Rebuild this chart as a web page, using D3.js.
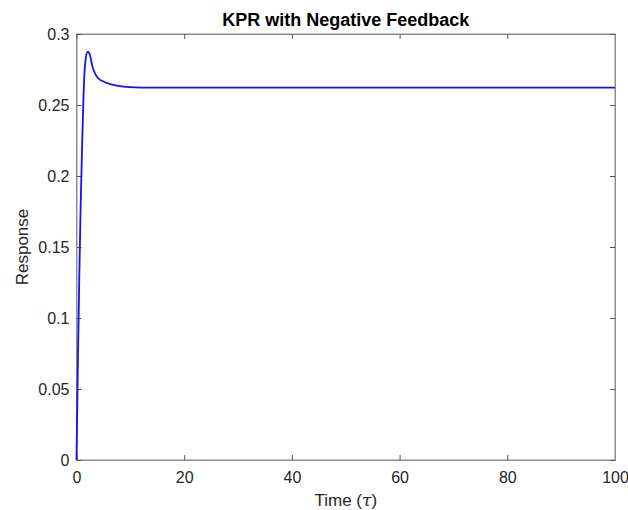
<!DOCTYPE html>
<html><head><meta charset="utf-8">
<script src="https://cdn.jsdelivr.net/npm/d3@7"></script>
<style>body{margin:0;background:#fff}svg{display:block}</style>
</head><body><svg id="c" width="628" height="510"></svg>
<script>
const times = [0,0.25,0.5,0.75,1.0,1.25,1.5,1.75,2.0,2.2,2.5,3,3.5,4,5,6,7,8,10,12,15,20,30,40,50,60,70,80,90,100];
const response = [0,0.066,0.125,0.175,0.215,0.25,0.274,0.2835,0.2873,0.2874,0.2852,0.2765,0.2718,0.269,0.2665,0.265,0.264,0.2633,0.2626,0.2623,0.2622,0.2622,0.2622,0.2622,0.2622,0.2622,0.2622,0.2622,0.2622,0.2622];
const xTicks = [0,20,40,60,80,100];
const yTicks = [0,0.05,0.1,0.15,0.2,0.25,0.3];
const yTickLabels = ["0","0.05","0.1","0.15","0.2","0.25","0.3"];

const svg = d3.select("#c");
const L=76.5,R=615,T=34,B=460;
const x = d3.scaleLinear().domain([0,100]).range([L,R]);
const y = d3.scaleLinear().domain([0,0.3]).range([B,T]);
const font="Liberation Sans, Arial, sans-serif";
const tc="#262626", ac="#8c8c8c";

const g = svg.append("g");
g.append("rect").attr("x",L).attr("y",T).attr("width",R-L).attr("height",B-T)
 .attr("fill","none").attr("stroke",ac).attr("stroke-width",1);

const tl=5;
const ax = g.append("g").attr("transform",`translate(0,${B})`)
 .call(d3.axisBottom(x).tickValues(xTicks).tickSize(-tl).tickPadding(12));
const axT = g.append("g").attr("transform",`translate(0,${T})`)
 .call(d3.axisTop(x).tickValues(xTicks).tickSize(-tl).tickFormat(""));
const ay = g.append("g").attr("transform",`translate(${L},0)`)
 .call(d3.axisLeft(y).tickValues(yTicks).tickSize(-tl).tickPadding(7).tickFormat((d,i)=>yTickLabels[i]));
const ayR = g.append("g").attr("transform",`translate(${R},0)`)
 .call(d3.axisRight(y).tickValues(yTicks).tickSize(-tl).tickFormat(""));
[ax,axT,ay,ayR].forEach(a=>{
  a.select(".domain").attr("stroke",ac);
  a.selectAll(".tick line").attr("stroke","#555");
  a.selectAll("text").attr("fill",tc).style("font-family",font).style("font-size","16px");
});

const line = d3.line().x((d,i)=>x(times[i])).y(d=>y(d)).curve(d3.curveMonotoneX);
g.append("path").datum(response).attr("d",line).attr("fill","none")
 .attr("stroke","#1414f0").attr("stroke-width",1.8);

svg.append("text").attr("x",(L+R)/2).attr("y",26).attr("text-anchor","middle")
 .style("font-family",font).style("font-size","18px").style("font-weight","bold").attr("fill","#000")
 .text("KPR with Negative Feedback");
const xl = svg.append("text").attr("x",(L+R)/2).attr("y",506).attr("text-anchor","middle")
 .style("font-family",font).style("font-size","17px").attr("fill",tc);
xl.append("tspan").text("Time (");
xl.append("tspan").style("font-style","italic").style("font-family","DejaVu Serif, serif").text("τ");
xl.append("tspan").text(")");
svg.append("text").attr("transform",`translate(28,${(T+B)/2}) rotate(-90)`).attr("text-anchor","middle")
 .style("font-family",font).style("font-size","17px").attr("fill",tc).text("Response");
</script></body></html>
